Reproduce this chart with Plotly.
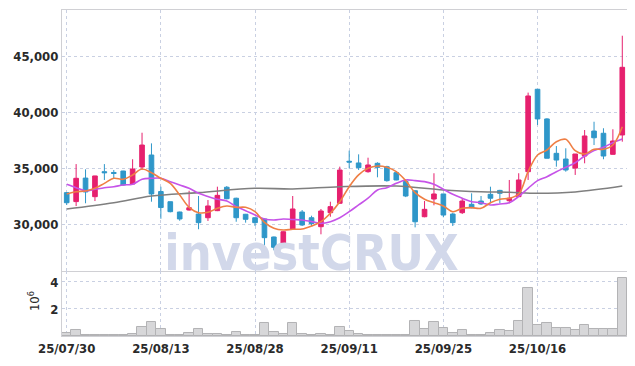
import plotly.graph_objects as go

dates = ["25/07/30","25/07/31","25/08/01","25/08/04","25/08/05","25/08/06","25/08/07","25/08/08","25/08/11","25/08/12",
         "25/08/13","25/08/14","25/08/18","25/08/19","25/08/20","25/08/21","25/08/22","25/08/25","25/08/26","25/08/27",
         "25/08/28","25/08/29","25/09/01","25/09/02","25/09/03","25/09/04","25/09/05","25/09/08","25/09/09","25/09/10",
         "25/09/11","25/09/12","25/09/15","25/09/16","25/09/17","25/09/18","25/09/19","25/09/22","25/09/23","25/09/24",
         "25/09/25","25/09/26","25/09/29","25/09/30","25/10/01","25/10/02","25/10/10","25/10/13","25/10/14","25/10/15",
         "25/10/16","25/10/17","25/10/20","25/10/21","25/10/22","25/10/23","25/10/24","25/10/27","25/10/28","25/10/29"]

opens = [32800,32000,34100,32440,34670,34600,34730,33570,35090,36160,
         32900,31990,31070,31250,30890,30560,31190,33280,32300,30870,
         30560,30450,28840,28210,29550,31070,30560,29760,31010,31850,
         35600,35450,34670,35420,35120,34580,33800,32970,30650,32230,
         32680,30890,31010,31760,32050,32650,33000,32080,32440,34670,
         42030,39380,36310,35800,34990,36070,38300,38100,36220,37950]
highs = [32850,35350,34880,34300,35350,34820,34750,35780,38150,37200,
         33330,32000,31100,32970,32500,32140,33330,33390,32350,30900,
         30600,30500,28880,29350,32500,31250,30740,31340,31990,35120,
         36550,36220,35920,35510,35200,34730,34000,33000,32050,34530,
         32700,31000,32300,32740,32500,33330,33050,33930,34530,41730,
         42050,39450,36960,36760,36250,38390,39130,38550,38460,46810]
lows = [31700,31600,31850,32050,33930,34080,33420,33550,34820,31990,
        30470,31040,30290,31200,29530,30270,31150,32200,30200,30120,
        29820,27680,27650,27970,29500,29820,29820,29080,30650,31800,
        34970,34820,34580,34170,33780,33900,32400,29700,30600,31670,
        30600,29820,30890,31400,31700,31850,31850,31850,32400,33930,
        38840,35870,35120,34670,34380,35420,37050,35780,36200,37350]
closes = [31900,34080,32860,34290,34580,34520,33480,34910,37050,32680,
          31470,31100,30450,31450,30120,31610,32560,32260,30560,30420,
          30120,28780,27920,29310,31340,29910,30030,31160,31550,34820,
          35530,35030,35270,35060,33870,33930,32500,30200,31310,32680,
          30800,30120,32050,31450,31790,32300,32740,32300,33930,41430,
          39380,35870,35710,34820,36250,37860,37700,36070,37410,43990]
volumes = [0.20,0.42,0.10,0.05,0.10,0.05,0.05,0.15,0.64,1.01,
           0.49,0.10,0.05,0.20,0.49,0.15,0.15,0.05,0.27,0.10,
           0.05,0.94,0.30,0.15,0.94,0.15,0.05,0.15,0.10,0.64,
           0.36,0.15,0.10,0.10,0.05,0.05,0.10,1.11,0.49,1.01,
           0.57,0.20,0.42,0.10,0.05,0.20,0.42,0.35,1.11,3.53,
           0.79,0.94,0.57,0.57,0.42,0.79,0.49,0.49,0.49,4.27]
ma_short = [32680,32880,32950,33190,33630,34080,33990,34380,34910,34580,
            34080,33630,32590,31490,31010,31050,31400,31610,31490,31490,
            31100,30150,29620,29460,29530,29550,29820,30210,30960,31990,
            33330,34380,34970,35180,35060,34670,33870,32800,32210,31900,
            31610,31100,31400,31460,31400,31900,32210,32300,32680,34670,
            36160,36610,37350,37560,36550,36250,36670,36670,37050,38690]
ma_mid = [33550,33240,32970,33100,33240,33330,33480,33550,33990,34080,
          34080,33780,33480,33190,32740,32460,32210,32050,31550,31190,
          30800,30450,30360,30450,30400,30360,30210,30060,30210,30560,
          31100,31700,32300,33040,33240,33630,33930,33870,33780,33550,
          33100,32650,32300,31990,31900,31700,31790,31900,32460,33190,
          33870,34220,34670,35060,35470,36070,36550,36850,37260,37590]
ma_long_idx = [0, 5, 9, 14, 20, 24, 29, 35, 40, 44, 47, 50, 54, 59]
ma_long = [31340,31900,32500,32800,33190,33130,33330,33390,33040,32880,32830,32740,32860,33390]

tick_dates = ["25/07/30","25/08/13","25/08/28","25/09/11","25/09/25","25/10/16"]

RED = "#e6206e"
BLUE = "#2f97c9"
GRID = "#c9d0e2"
FONT = "DejaVu Sans Condensed, DejaVu Sans, sans-serif"
TICKFONT = dict(family=FONT, size=13, color="#2a2a2a", weight="bold")

fig = go.Figure()

# watermark (drawn first so it sits beneath the marks)
fig.add_trace(go.Scatter(x=[dates[26]], y=[27050], mode="text", text=["investCRUX"],
                         textfont=dict(family=FONT, size=50, color="#d2d8ea", weight="bold"),
                         textposition="middle center", cliponaxis=False, hoverinfo="skip",
                         showlegend=False, xaxis="x", yaxis="y"))

fig.add_trace(go.Scatter(x=[dates[i] for i in ma_long_idx], y=ma_long, mode="lines",
                         line=dict(color="#7f7f7f", width=1.6, shape="spline"),
                         hoverinfo="skip", showlegend=False, xaxis="x", yaxis="y"))

fig.add_trace(go.Candlestick(x=dates, open=opens, high=highs, low=lows, close=closes,
                             increasing=dict(line=dict(color=RED, width=1), fillcolor=RED),
                             decreasing=dict(line=dict(color=BLUE, width=1), fillcolor=BLUE),
                             whiskerwidth=0, hoverinfo="skip", showlegend=False,
                             xaxis="x", yaxis="y"))

fig.add_trace(go.Scatter(x=dates, y=ma_mid, mode="lines",
                         line=dict(color="#c653e8", width=1.6, shape="spline"),
                         hoverinfo="skip", showlegend=False, xaxis="x", yaxis="y"))
fig.add_trace(go.Scatter(x=dates, y=ma_short, mode="lines",
                         line=dict(color="#ef7f45", width=1.6, shape="spline"),
                         hoverinfo="skip", showlegend=False, xaxis="x", yaxis="y"))

fig.add_trace(go.Bar(x=dates, y=[v * 1e6 for v in volumes],
                     marker=dict(color="#d7d7d9", line=dict(color="#b3b3b5", width=1)),
                     hoverinfo="skip", showlegend=False, xaxis="x2", yaxis="y2"))

# page body has an 8px margin, so the figure is sized to fit the 635x366 window
fig.update_layout(
    width=627, height=358,
    margin=dict(l=54, r=8, t=2, b=30),
    paper_bgcolor="white", plot_bgcolor="white",
    bargap=0, boxgap=0.3,
    font=dict(family=FONT, color="#2a2a2a"),
    xaxis=dict(type="category", categoryorder="array", categoryarray=dates,
               domain=[0, 1], anchor="y", showticklabels=False, ticks="",
               tickvals=tick_dates, showgrid=True, gridcolor=GRID, griddash="dot", gridwidth=1,
               showline=True, linecolor="#d0d0d4", linewidth=1, mirror=True, automargin=False,
               rangeslider=dict(visible=False), range=[-0.5, 59.5], autorange=False),
    yaxis=dict(domain=[0.1994, 1], range=[25804, 49107], tickvals=[30000, 35000, 40000, 45000],
               tickformat=",", showgrid=True, gridcolor=GRID, griddash="dot", gridwidth=1,
               showline=True, linecolor="#d0d0d4", linewidth=1, mirror=True, zeroline=False,
               ticks="", tickfont=TICKFONT, anchor="x", automargin=False, autorange=False),
    xaxis2=dict(type="category", categoryorder="array", categoryarray=dates,
                domain=[0, 1], anchor="y2", tickvals=tick_dates, range=[-0.5, 59.5], autorange=False,
                showgrid=True, gridcolor=GRID, griddash="dot", gridwidth=1,
                showline=True, linecolor="#d0d0d4", linewidth=1, mirror=False, automargin=False,
                ticks="", tickfont=TICKFONT, tickangle=0),
    yaxis2=dict(domain=[0, 0.1994], range=[0, 4.81e6], tickvals=[2e6, 4e6], ticktext=["2", "4"],
                showgrid=True, gridcolor=GRID, griddash="dot", gridwidth=1, autorange=False,
                showline=True, linecolor="#d0d0d4", linewidth=1, mirror=True, zeroline=False,
                ticks="", tickfont=TICKFONT, anchor="x2", automargin=False),
    annotations=[dict(text="10<sup>6</sup>", xref="paper", yref="paper", x=-0.0496, y=0.107,
                      xanchor="center", yanchor="middle",
                      showarrow=False, textangle=-90, font=dict(size=13, color="#2a2a2a", family=FONT))],
)

fig.write_html("out.html")
